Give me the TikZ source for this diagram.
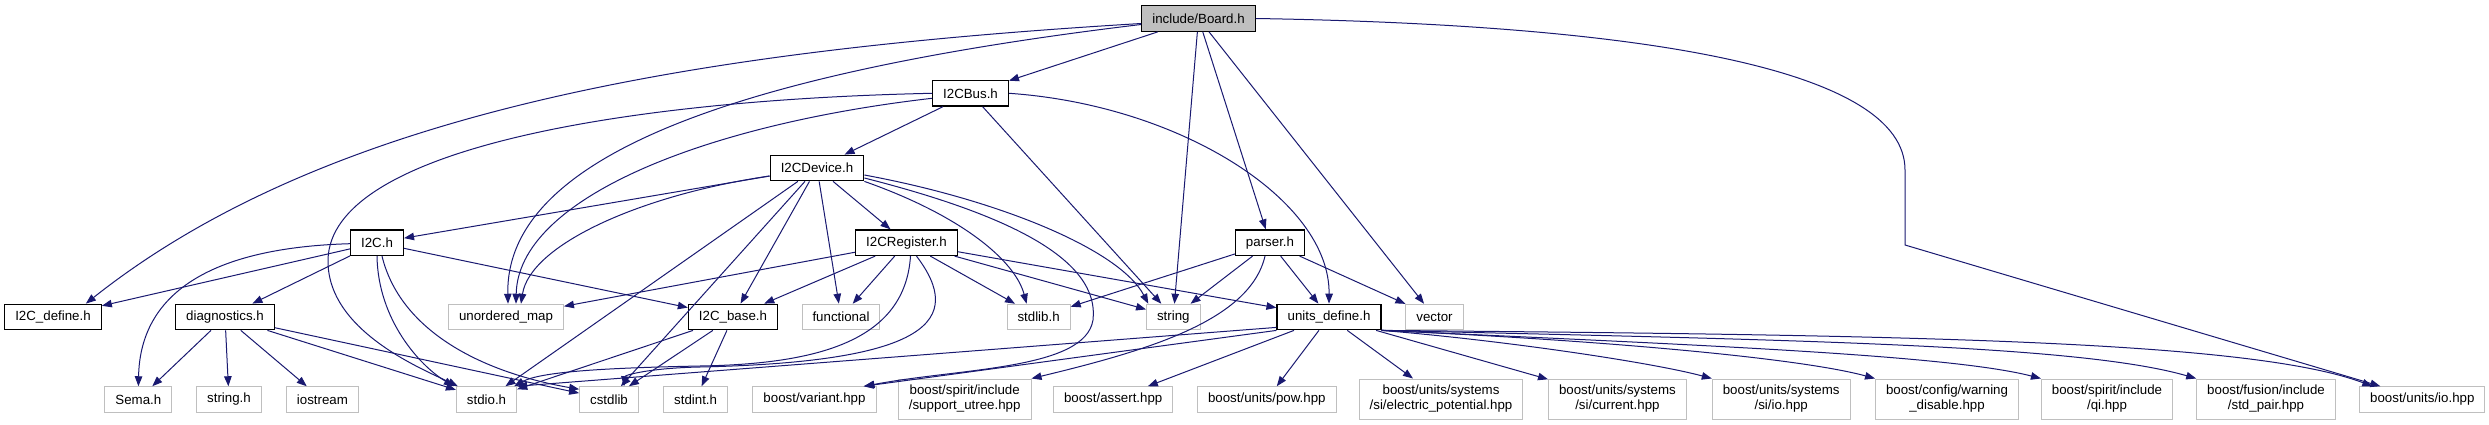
\documentclass[tikz,border=0pt]{standalone}
\usepackage{fontspec}
\setmainfont{Liberation Sans}
\usetikzlibrary{arrows.meta}
\definecolor{edgeblue}{HTML}{191970}
\definecolor{boxgray}{HTML}{BFBFBF}
\tikzset{
  hdr/.style={draw=black,line width=1.3pt,fill=white,inner xsep=10.5pt,inner ysep=2pt,minimum height=25.5pt,font=\fontsize{13.3pt}{15pt}\selectfont},
  root/.style={hdr,fill=boxgray},
  sys/.style={hdr,draw=boxgray,line width=1pt},
  sys2/.style={sys,align=center,minimum height=40pt},
  dep/.style={draw=edgeblue,line width=1pt,-{Triangle[length=10pt,width=7.5pt]}}
}
\begin{document}
\begin{tikzpicture}[x=1pt,y=-1pt]
  \useasboundingbox (0,0) rectangle (2489,425);
  % project headers
  \node[root] (board) at (1198.5,18.5) {include/Board.h};
  \node[hdr] (bus) at (970.5,93.3) {I2CBus.h};
  \node[hdr] (dev) at (817,168) {I2CDevice.h};
  \node[hdr] (i2c) at (377,242.7) {I2C.h}; \node[hdr] (reg) at (906.5,242.7) {I2CRegister.h}; \node[hdr] (parser) at (1270,242.7) {parser.h};
  \node[hdr] (i2cdef) at (53,317) {I2C\_define.h}; \node[hdr] (diag) at (225,317) {diagnostics.h};
  \node[hdr] (base) at (733,317) {I2C\_base.h}; \node[hdr] (units) at (1329,317) {units\_define.h};
  % system and library headers
  \node[sys] (umap) at (506,317) {unordered\_map}; \node[sys] (func) at (841,317) {functional};
  \node[sys] (stdlibh) at (1038.6,317) {stdlib.h}; \node[sys] (str) at (1173.3,317) {string}; \node[sys] (vec) at (1434.5,317) {vector};
  \node[sys] (sema) at (138.4,399.5) {Sema.h}; \node[sys] (strh) at (229,399.5) {string.h}; \node[sys] (iostr) at (322.4,399.5) {iostream};
  \node[sys] (stdio) at (486.5,399.5) {stdio.h}; \node[sys] (cstd) at (609,399.5) {cstdlib}; \node[sys] (stdint) at (695.6,399.5) {stdint.h};
  \node[sys] (variant) at (814.5,399.5) {boost/variant.hpp};
  \node[sys2] (utree) at (964.7,399) {boost/spirit/include\\/support\_utree.hpp};
  \node[sys] (assert) at (1113.2,399.5) {boost/assert.hpp}; \node[sys] (pow) at (1266.8,399.5) {boost/units/pow.hpp};
  \node[sys2] (epot) at (1441,399) {boost/units/systems\\/si/electric\_potential.hpp};
  \node[sys2] (sicur) at (1617.4,399) {boost/units/systems\\/si/current.hpp};
  \node[sys2] (siio) at (1781.2,399) {boost/units/systems\\/si/io.hpp};
  \node[sys2] (warn) at (1947,399) {boost/config/warning\\\_disable.hpp};
  \node[sys2] (qi) at (2107,399) {boost/spirit/include\\/qi.hpp};
  \node[sys2] (pair) at (2266,399) {boost/fusion/include\\/std\_pair.hpp};
  \node[sys] (uio) at (2422.3,399.5) {boost/units/io.hpp};
  % straight includes
  \foreach \a/\b in {board/bus,board/str,board/parser,board/vec,bus/dev,bus/str,
      dev/i2c,dev/stdio,dev/cstd,dev/base,dev/func,dev/reg,i2c/i2cdef,i2c/diag,i2c/base,
      diag/sema,diag/strh,diag/iostr,diag/stdio,diag/cstd,base/stdio,base/cstd,base/stdint,
      reg/umap,reg/base,reg/func,reg/stdlibh,reg/str,reg/units,
      parser/stdlibh,parser/str,parser/units,parser/vec,units/assert,units/pow,units/epot,units/sicur}
    \draw[dep] (\a) -- (\b);
  % curved includes
  \draw[dep] ([yshift=-5pt]board.west) .. controls (700,50) and (330,110) .. ([xshift=-16pt]i2cdef.north east);
  \draw[dep] ([yshift=-6pt]board.west) .. controls (760,70) and (505,150) .. ([xshift=2pt]umap.north);
  \draw[dep] (board.east) .. controls (1650,25) and (1905,70) .. (1905,170) -- (1905,245) -- ([xshift=-42pt]uio.north);
  \draw[dep] (bus.west) .. controls (620,100) and (330,150) .. (328,260) .. controls (327,330) and (420,368) .. ([xshift=2pt]stdio.north west);
  \draw[dep] ([yshift=-5pt]bus.west) .. controls (700,125) and (518,200) .. ([xshift=10pt]umap.north);
  \draw[dep] (bus.east) .. controls (1180,105) and (1330,200) .. (units.north);
  \draw[dep] ([yshift=-8pt]dev.west) .. controls (640,195) and (530,245) .. ([xshift=15pt]umap.north);
  \draw[dep] (dev.south east) .. controls (960,215) and (1015,260) .. ([xshift=-12pt]stdlibh.north);
  \draw[dep] ([yshift=-7pt]dev.east) .. controls (1000,200) and (1120,250) .. ([xshift=-25pt]str.north);
  \draw[dep] ([yshift=-10pt]dev.east) .. controls (1010,215) and (1100,260) .. (1093,320) .. controls (1085,370) and (960,368) .. ([xshift=-12pt]variant.north east);
  \draw[dep] ([yshift=-1pt]i2c.west) .. controls (200,248) and (140,300) .. (sema.north);
  \draw[dep] (i2c.south) .. controls (378,320) and (420,366) .. ([xshift=-2pt]stdio.north west);
  \draw[dep] ([xshift=5pt]i2c.south) .. controls (400,330) and (480,372) .. ([yshift=-3pt]cstd.north west);
  \draw[dep] ([xshift=4pt]reg.south) .. controls (905,340) and (820,364) .. (700,366) .. controls (600,368) and (540,372) .. ([xshift=-3pt]stdio.north east);
  \draw[dep] ([xshift=10pt]reg.south) .. controls (965,320) and (930,362) .. (700,367) .. controls (650,368) and (625,375) .. ([xshift=15pt]cstd.north);
  \draw[dep] ([xshift=-5pt]parser.south) .. controls (1250,320) and (1150,350) .. (utree.north east);
  \draw[dep] (units.south west) -- ([xshift=-13pt]variant.north east);
  \draw[dep] ([yshift=3pt]units.south west) -- (stdio.north east);
  \draw[dep] (units.south east) .. controls (1500,340) and (1650,362) .. (siio.north west);
  \draw[dep] (units.south east) .. controls (1600,340) and (1800,358) .. (warn.north west);
  \draw[dep] (units.south east) .. controls (1700,345) and (1950,355) .. (qi.north west);
  \draw[dep] (units.south east) .. controls (1800,340) and (2080,345) .. (pair.north west);
  \draw[dep] (units.south east) .. controls (1900,335) and (2250,340) .. ([xshift=-50pt]uio.north);
\end{tikzpicture}
\end{document}
